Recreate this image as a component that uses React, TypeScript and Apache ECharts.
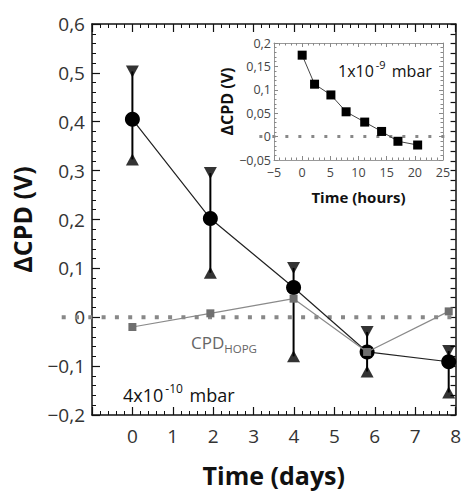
import React, { useEffect, useRef } from "react";
import * as echarts from "echarts";

// Main panel (days)
const daysX = [0, 1.93, 3.99, 5.81, 7.83];
const cpdMean = [0.405, 0.202, 0.061, -0.071, -0.091];
const cpdLow = [0.323, 0.091, -0.08, -0.111, -0.154];
const cpdHigh = [0.503, 0.295, 0.101, -0.03, -0.069];
const hopgCpd = [-0.02, 0.008, 0.038, -0.071, 0.012];
const zeroLineDays = [-1.75, 7.95];

// Inset (hours)
const hoursX = [0, 2.2, 5.1, 7.8, 11.1, 14.1, 17, 20.5];
const insetCpd = [0.174, 0.112, 0.089, 0.053, 0.031, 0.011, -0.01, -0.018];
const zeroLineHours = [-7.6, 26.2];

const FONT = "Open Sans";

const fmt = (v: number, d: number) => {
  const r = Math.round(v * Math.pow(10, d)) / Math.pow(10, d);
  return String(r).replace(".", ",").replace("-", "\u2212");
};

export default function App() {
  const ref = useRef<HTMLDivElement>(null);
  useEffect(() => {
    if (!ref.current) return;
    const chart = echarts.init(ref.current, undefined, { renderer: "svg" });

    const mainLine = { show: true, onZero: false, lineStyle: { color: "#111", width: 1.5 } };
    const insetLine = { show: true, onZero: false, lineStyle: { color: "#999", width: 1 } };

    const texts: any[] = [
      {
        type: "text", x: 123, y: 392, z: 10,
        style: {
          text: "{a|4x10}{s|-10}{a| mbar}",
          verticalAlign: "middle",
          rich: {
            a: { fontFamily: FONT, fontSize: 18, fill: "#111", lineHeight: 24, verticalAlign: "bottom" },
            s: { fontFamily: FONT, fontSize: 12, fill: "#111", lineHeight: 24, verticalAlign: "bottom", padding: [0, 2, 10, 2] },
          },
        },
      },
      {
        type: "text", x: 191, y: 342, z: 10,
        style: {
          text: "{a|CPD}{s|HOPG}",
          verticalAlign: "middle",
          rich: {
            a: { fontFamily: FONT, fontSize: 17, fill: "#666", lineHeight: 24, verticalAlign: "bottom", padding: [0, 0, 3, 0] },
            s: { fontFamily: FONT, fontSize: 11.5, fill: "#666", lineHeight: 24, verticalAlign: "bottom" },
          },
        },
      },
      {
        type: "text", x: 338, y: 68, z: 10,
        style: {
          text: "{a|1x10}{s|-9}{a| mbar}",
          verticalAlign: "middle",
          rich: {
            a: { fontFamily: FONT, fontSize: 16, fill: "#111", lineHeight: 22, verticalAlign: "bottom" },
            s: { fontFamily: FONT, fontSize: 11, fill: "#111", lineHeight: 22, verticalAlign: "bottom", padding: [0, 2, 9, 2] },
          },
        },
      },
    ];

    const option: any = {
      animation: false,
      backgroundColor: "#fff",
      grid: [
        { left: 92, right: 5, top: 24, bottom: 64, containLabel: false },
        { left: 274, right: 21, top: 43, bottom: 332, containLabel: false, show: true, backgroundColor: "#fff", borderWidth: 0 },
      ],
      xAxis: [
        {
          type: "value", gridIndex: 0, min: -1, max: 8, interval: 1, position: "bottom",
          axisLine: mainLine,
          axisTick: { show: true, inside: true, length: 8, lineStyle: { color: "#111", width: 1.2 } },
          minorTick: { show: true, splitNumber: 5, length: 4, lineStyle: { color: "#111", width: 1 } },
          splitLine: { show: false },
          axisLabel: { formatter: (v: number) => (v === -1 ? "" : String(v)), fontFamily: FONT, fontSize: 19, color: "#333", margin: 11 },
          name: "Time (days)", nameLocation: "middle", nameGap: 47,
          nameTextStyle: { fontFamily: FONT, fontSize: 25, fontWeight: "bold", color: "#111" },
        },
        {
          type: "value", gridIndex: 0, min: -1, max: 8, interval: 1, position: "top",
          axisLine: mainLine,
          axisTick: { show: true, inside: true, length: 8, lineStyle: { color: "#111", width: 1.2 } },
          minorTick: { show: true, splitNumber: 5, length: 4, lineStyle: { color: "#111", width: 1 } },
          splitLine: { show: false }, axisLabel: { show: false },
        },
        {
          type: "value", gridIndex: 1, min: -5, max: 25, interval: 5, position: "bottom",
          axisLine: insetLine,
          axisTick: { show: true, inside: true, length: 4, lineStyle: { color: "#888" } },
          minorTick: { show: true, splitNumber: 5, length: 2.5, lineStyle: { color: "#888" } },
          splitLine: { show: false },
          axisLabel: { formatter: (v: number) => fmt(v, 0), fontFamily: FONT, fontSize: 12.5, color: "#444", margin: 6 },
          name: "Time (hours)", nameLocation: "middle", nameGap: 29,
          nameTextStyle: { fontFamily: FONT, fontSize: 15, fontWeight: "bold", color: "#111" },
        },
        {
          type: "value", gridIndex: 1, min: -5, max: 25, interval: 5, position: "top",
          axisLine: insetLine,
          axisTick: { show: true, inside: true, length: 4, lineStyle: { color: "#888" } },
          minorTick: { show: true, splitNumber: 5, length: 2.5, lineStyle: { color: "#888" } },
          splitLine: { show: false }, axisLabel: { show: false },
        },
      ],
      yAxis: [
        {
          type: "value", gridIndex: 0, min: -0.2, max: 0.6, interval: 0.1, position: "left",
          axisLine: mainLine,
          axisTick: { show: true, inside: true, length: 8, lineStyle: { color: "#111", width: 1.2 } },
          minorTick: { show: true, splitNumber: 5, length: 4, lineStyle: { color: "#111", width: 1 } },
          splitLine: { show: false },
          axisLabel: { formatter: (v: number) => fmt(v, 1), fontFamily: FONT, fontSize: 19, color: "#333", margin: 7 },
          name: "\u0394CPD (V)", nameLocation: "middle", nameGap: 58,
          nameTextStyle: { fontFamily: FONT, fontSize: 25, fontWeight: "bold", color: "#111" },
        },
        {
          type: "value", gridIndex: 0, min: -0.2, max: 0.6, interval: 0.1, position: "right",
          axisLine: mainLine,
          axisTick: { show: true, inside: true, length: 5, lineStyle: { color: "#111", width: 1.2 } },
          minorTick: { show: true, splitNumber: 5, length: 5, lineStyle: { color: "#111", width: 1.2 } },
          splitLine: { show: false }, axisLabel: { show: false },
        },
        {
          type: "value", gridIndex: 1, min: -0.05, max: 0.2, interval: 0.05, position: "left",
          axisLine: insetLine,
          axisTick: { show: true, inside: true, length: 4, lineStyle: { color: "#888" } },
          minorTick: { show: true, splitNumber: 5, length: 2.5, lineStyle: { color: "#888" } },
          splitLine: { show: false },
          axisLabel: { formatter: (v: number) => fmt(v, 2), fontFamily: FONT, fontSize: 12.5, color: "#444", margin: 3 },
          name: "\u0394CPD (V)", nameLocation: "middle", nameGap: 36,
          nameTextStyle: { fontFamily: FONT, fontSize: 16, fontWeight: "bold", color: "#111" },
        },
        {
          type: "value", gridIndex: 1, min: -0.05, max: 0.2, interval: 0.05, position: "right",
          axisLine: insetLine,
          axisTick: { show: true, inside: true, length: 4, lineStyle: { color: "#888" } },
          minorTick: { show: true, splitNumber: 5, length: 2.5, lineStyle: { color: "#888" } },
          splitLine: { show: false }, axisLabel: { show: false },
        },
      ],
      series: [
        {
          type: "custom", xAxisIndex: 0, yAxisIndex: 0, z: 2,
          data: daysX.map((x, i) => [x, cpdLow[i], cpdHigh[i]]),
          encode: { x: 0, y: [1, 2] },
          renderItem: (params: any, api: any) => {
            const p1 = api.coord([api.value(0), api.value(1)]);
            const p2 = api.coord([api.value(0), api.value(2)]);
            return {
              type: "line",
              shape: { x1: p1[0], y1: p1[1], x2: p2[0], y2: p2[1] },
              style: { stroke: "#000", lineWidth: 2 },
            };
          },
        },
        {
          type: "scatter", xAxisIndex: 0, yAxisIndex: 0, z: 3, symbol: "triangle", symbolSize: [13, 12],
          itemStyle: { color: "#000" },
          data: daysX.map((x, i) => [x, cpdLow[i]]),
        },
        {
          type: "scatter", xAxisIndex: 0, yAxisIndex: 0, z: 3, symbol: "triangle", symbolRotate: 180, symbolSize: [13, 12],
          itemStyle: { color: "#000" },
          data: daysX.map((x, i) => [x, cpdHigh[i]]),
        },
        {
          type: "line", xAxisIndex: 0, yAxisIndex: 0, z: 4, symbol: "circle", symbolSize: 15,
          itemStyle: { color: "#000" }, lineStyle: { color: "#222", width: 1.2 },
          data: daysX.map((x, i) => [x, cpdMean[i]]),
        },
        {
          type: "line", xAxisIndex: 0, yAxisIndex: 0, z: 5, symbol: "rect", symbolSize: 8,
          itemStyle: { color: "#6f6f6f" }, lineStyle: { color: "#8a8a8a", width: 1.2 },
          data: daysX.map((x, i) => [x, hopgCpd[i]]),
        },
        {
          type: "line", xAxisIndex: 2, yAxisIndex: 2, z: 7, symbol: "rect", symbolSize: 9,
          itemStyle: { color: "#000" }, lineStyle: { color: "#444", width: 1 },
          data: hoursX.map((x, i) => [x, insetCpd[i]]),
        },
      ],
      graphic: texts,
    };
    chart.setOption(option);

    const a1 = chart.convertToPixel({ xAxisIndex: 0, yAxisIndex: 0 }, [zeroLineDays[0], 0]) as number[];
    const a2 = chart.convertToPixel({ xAxisIndex: 0, yAxisIndex: 0 }, [zeroLineDays[1], 0]) as number[];
    const b1 = chart.convertToPixel({ xAxisIndex: 2, yAxisIndex: 2 }, [zeroLineHours[0], 0]) as number[];
    const b2 = chart.convertToPixel({ xAxisIndex: 2, yAxisIndex: 2 }, [zeroLineHours[1], 0]) as number[];

    chart.setOption({
      graphic: [
        ...texts,
        {
          type: "line", z: 1, silent: true,
          shape: { x1: a1[0], y1: a1[1], x2: a2[0], y2: a2[1] },
          style: { stroke: "#888", lineWidth: 4, lineDash: [4, 9.3], lineCap: "butt" },
        },
        {
          type: "line", z: 1, silent: true,
          shape: { x1: b1[0], y1: b1[1], x2: b2[0], y2: b2[1] },
          style: { stroke: "#888", lineWidth: 3, lineDash: [3, 10], lineCap: "butt" },
        },
      ],
    });
    return () => chart.dispose();
  }, []);
  return <div ref={ref} style={{ width: 464, height: 492, position: "absolute", left: 0, top: 0 }} />;
}
